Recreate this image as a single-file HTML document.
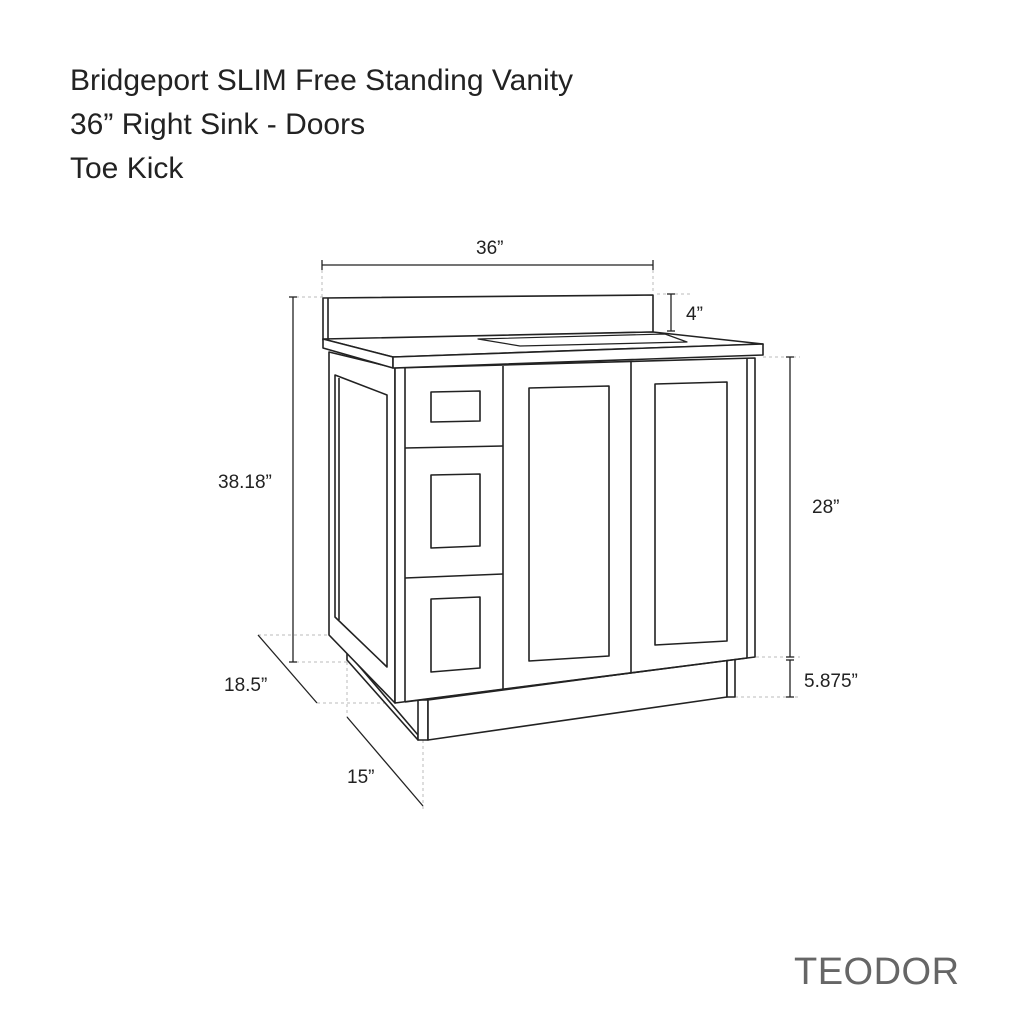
<!DOCTYPE html>
<html><head><style>
body{margin:0;background:#fff;}
svg{display:block}
</style></head><body>
<svg width="1024" height="1024" viewBox="0 0 1024 1024" xmlns="http://www.w3.org/2000/svg" font-family="Liberation Sans, sans-serif">
<g fill="#222" font-size="30">
<text x="70" y="90">Bridgeport SLIM Free Standing Vanity</text>
<text x="70" y="134">36” Right Sink - Doors</text>
<text x="70" y="178">Toe Kick</text>
</g>
<text x="794" y="984" font-size="38" fill="#666" letter-spacing="0.5">TEODOR</text>
<g fill="#222" font-size="19">
<text x="476" y="254">36”</text>
<text x="686" y="320">4”</text>
<text x="218" y="488">38.18”</text>
<text x="812" y="513">28”</text>
<text x="804" y="687">5.875”</text>
<text x="224" y="691">18.5”</text>
<text x="347" y="783">15”</text>
</g>
<g stroke="#bbb" stroke-width="1" stroke-dasharray="3,3" fill="none">
<line x1="322" y1="270" x2="322" y2="297"/>
<line x1="653" y1="270" x2="653" y2="294"/>
<line x1="290" y1="297" x2="323" y2="297"/>
<line x1="657" y1="294" x2="690" y2="294"/>
<line x1="763" y1="357" x2="800" y2="357"/>
<line x1="750" y1="657" x2="800" y2="657"/>
<line x1="735" y1="697" x2="800" y2="697"/>
<line x1="258" y1="635" x2="330" y2="635"/>
<line x1="290" y1="662" x2="347" y2="662"/>
<line x1="317" y1="703" x2="390" y2="703"/>
<line x1="347" y1="662" x2="347" y2="717"/>
<line x1="423" y1="740" x2="423" y2="810"/>
</g>
<g stroke="#222" stroke-width="1.3" fill="none">
<line x1="322" y1="265" x2="653" y2="265"/><line x1="322" y1="260" x2="322" y2="270"/><line x1="653" y1="260" x2="653" y2="270"/>
<line x1="671" y1="294" x2="671" y2="331"/><line x1="667" y1="294" x2="675" y2="294"/><line x1="667" y1="331" x2="675" y2="331"/>
<line x1="293" y1="297" x2="293" y2="662"/><line x1="289" y1="297" x2="297" y2="297"/><line x1="289" y1="662" x2="297" y2="662"/>
<line x1="790" y1="357" x2="790" y2="657"/><line x1="786" y1="357" x2="794" y2="357"/><line x1="786" y1="657" x2="794" y2="657"/>
<line x1="790" y1="660" x2="790" y2="697"/><line x1="786" y1="660" x2="794" y2="660"/><line x1="786" y1="697" x2="794" y2="697"/>
<line x1="258" y1="635" x2="317" y2="703"/>
<line x1="347" y1="717" x2="423" y2="806"/>
</g>
<g stroke="#222" stroke-width="1.6" fill="#fff" stroke-linejoin="round">
<polygon points="323,298 653,295 653,332 323,340"/>
<line x1="328" y1="298" x2="328" y2="339"/>
<polygon points="347,652 418,735 418,740 347,660"/>
<polygon points="418,700 428,700 428,740 418,740"/>
<polygon points="428,700 727,660 727,697 428,740"/>
<polygon points="727,660 735,658 735,697 727,697"/>
<polygon points="329,352 395,368 395,703 329,635"/>
<polygon points="335,375 387,395 387,667 335,617"/>
<line x1="339" y1="378" x2="339" y2="620"/>
<polygon points="395,368 755,358 755,657 395,703"/>
<line x1="405" y1="368" x2="405" y2="702"/>
<line x1="747" y1="358" x2="747" y2="658"/>
<line x1="405" y1="702" x2="747" y2="658"/>
<line x1="503" y1="366" x2="503" y2="689"/>
<line x1="631" y1="362" x2="631" y2="673"/>
<line x1="405" y1="448" x2="503" y2="446"/>
<line x1="405" y1="578" x2="503" y2="574"/>
<polygon points="431,392 480,391 480,421 431,422"/>
<polygon points="431,475 480,474 480,546 431,548"/>
<polygon points="431,599 480,597 480,668 431,672"/>
<polygon points="529,388 609,386 609,656 529,661"/>
<polygon points="655,384 727,382 727,641 655,645"/>
<polygon points="323,339 653,332 763,344 393,357"/>
<polygon points="323,339 393,357 393,368 323,348"/>
<polygon points="393,357 763,344 763,355 393,368"/>
<polygon points="478,339 665,334 687,342 520,346" stroke-width="1.2"/>
</g>
</svg>
</body></html>
